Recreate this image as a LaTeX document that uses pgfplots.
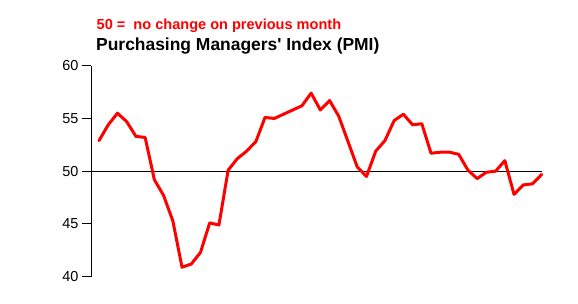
\documentclass[border=0pt]{standalone}
\usepackage{fontspec}
\setmainfont{Liberation Sans}
\usepackage{pgfplots}
\pgfplotsset{compat=1.18}
\definecolor{pmired}{RGB}{255,0,0}
\begin{document}
\begin{tikzpicture}[x=1bp,y=1bp]
\useasboundingbox (0,0) rectangle (578,303);
\begin{axis}[
  at={(91bp,26.3bp)}, anchor=south west,
  scale only axis, width=450.7bp, height=211bp,
  xmin=0.13, xmax=49, ymin=40, ymax=60,
  axis x line=none, axis y line=left,
  axis line style={-, line width=1bp, black},
  ytick={40,45,50,55,60},
  tick align=outside, major tick length=9bp,
  ytick style={line width=1bp, black},
  yticklabel style={font=\fontsize{14.5}{16}\selectfont},
  /pgf/number format/assume math mode=true,
  clip=false,
]
\addplot[black, line width=1.2bp] coordinates {(0.13,50) (49,50)};
\addplot[pmired, line width=3bp, line join=round, line cap=round] coordinates {
(1,52.9) (2,54.4) (3,55.5) (4,54.7) (5,53.3) (6,53.2) (7,49.2) (8,47.7)
(9,45.3) (10,40.9) (11,41.2) (12,42.3) (13,45.1) (14,44.9) (15,50.1) (16,51.2)
(17,51.9) (18,52.8) (19,55.1) (20,55.0) (21,55.4) (22,55.8) (23,56.2) (24,57.4)
(25,55.8) (26,56.7) (27,55.2) (28,52.8) (29,50.4) (30,49.5) (31,51.9) (32,52.9)
(33,54.8) (34,55.4) (35,54.4) (36,54.5) (37,51.7) (38,51.8) (39,51.8) (40,51.6)
(41,50.1) (42,49.3) (43,49.9) (44,50.0) (45,51.0) (46,47.8) (47,48.7) (48,48.8)
(49,49.7)};
\end{axis}
\node[anchor=base west, inner sep=0pt, text=pmired, font=\bfseries\fontsize{14.6}{16}\selectfont] at (96.5,273.7) {50 =\ \ no change on previous month};
\node[anchor=base west, inner sep=0pt, font=\bfseries\fontsize{17.5}{19}\selectfont] at (96,252.3) {Purchasing Managers\textquotesingle\ Index (PMI)};
\end{tikzpicture}
\end{document}
